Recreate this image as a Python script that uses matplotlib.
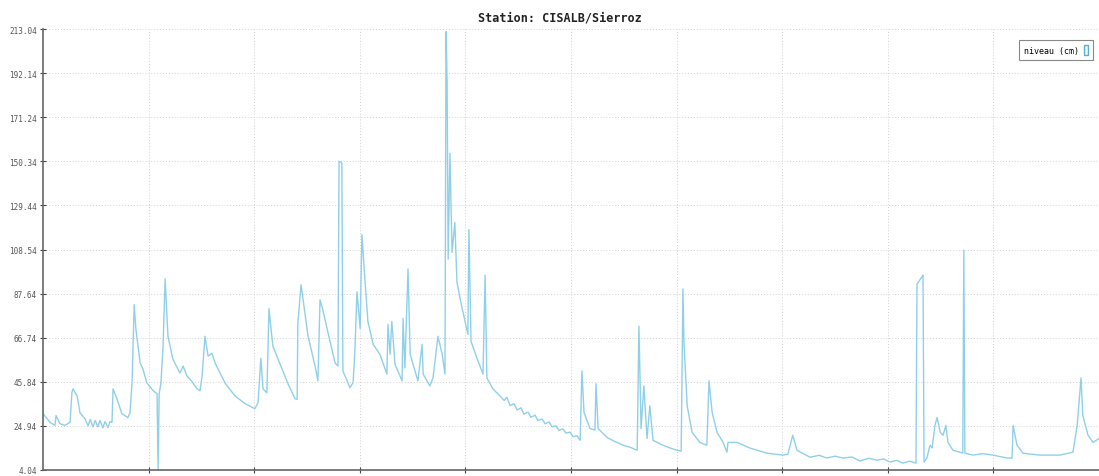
import matplotlib
matplotlib.use("Agg")
import matplotlib.pyplot as plt
from matplotlib.patches import Patch

# day index (0-300) and water level (cm)
days = [
    0.0, 2.0, 3.4, 3.7, 4.8, 6.2, 7.7, 8.2, 8.5, 9.7, 10.5, 11.9,
    12.8, 13.4, 14.2, 14.8, 15.6, 16.2, 17.0, 17.6, 18.5, 19.0, 19.6, 19.9,
    21.0, 22.4, 24.1, 24.7, 25.3, 25.9, 26.4, 27.0, 27.6, 28.4, 29.5, 31.3,
    32.4, 32.7, 33.0, 33.5, 34.1, 34.7, 35.5, 36.9, 38.9, 39.8, 40.9, 42.3,
    43.8, 44.6, 45.2, 46.0, 46.9, 48.0, 48.9, 51.7, 54.5, 57.4, 60.2, 61.1,
    61.9, 62.5, 63.6, 64.2, 65.3, 67.9, 69.6, 71.6, 72.2, 72.4, 73.3, 73.9,
    75.3, 77.3, 78.1, 78.7, 79.5, 81.0, 83.0, 83.8, 84.1, 84.9, 85.2, 86.4,
    87.2, 88.1, 88.6, 89.2, 90.1, 90.6, 91.5, 92.3, 93.8, 95.7, 97.7, 98.0,
    98.6, 99.1, 100.0, 102.0, 102.3, 102.8, 103.7, 104.3, 106.5, 107.7, 108.0, 109.9,
    110.8, 112.2, 113.4, 114.2, 114.5, 114.8, 115.1, 115.6, 116.2, 117.0, 117.6, 118.5,
    119.9, 120.7, 121.0, 121.6, 123.3, 125.0, 125.6, 126.1, 127.8, 129.8, 131.0, 131.8,
    132.7, 133.8, 134.7, 135.8, 136.6, 137.8, 138.6, 139.8, 140.6, 141.8, 142.6, 143.8,
    144.6, 145.7, 146.6, 147.7, 148.6, 149.7, 150.6, 151.7, 152.6, 153.1, 153.7, 155.4,
    156.8, 157.1, 157.7, 160.2, 162.5, 164.8, 166.8, 168.8, 169.3, 169.9, 170.7, 171.6,
    172.4, 173.3, 176.1, 178.1, 180.1, 181.3, 181.8, 182.1, 183.0, 184.4, 186.6, 188.6,
    189.2, 190.1, 191.5, 193.2, 194.3, 194.6, 197.2, 200.9, 205.7, 210.2, 211.6, 213.0,
    214.2, 217.9, 220.5, 222.7, 225.0, 227.3, 229.8, 232.1, 234.5, 236.9, 238.8, 240.6,
    242.5, 244.3, 246.2, 248.0, 248.3, 249.7, 250.0, 250.3, 251.1, 252.0, 252.6, 253.4,
    254.0, 254.9, 255.7, 256.5, 257.1, 258.5, 260.5, 261.3, 261.6, 261.9, 264.2, 267.0,
    269.9, 273.9, 275.3, 275.6, 276.7, 278.4, 283.2, 288.9, 292.6, 293.8, 294.9, 295.4,
    296.9, 298.3, 300.0,
]
niveau = [
    30.8, 26.6, 25.2, 29.8, 26.0, 25.2, 26.6, 40.6, 42.5, 39.2, 31.2, 28.4,
    25.0, 28.0, 24.5, 27.5, 24.5, 27.5, 24.0, 27.0, 24.2, 27.0, 26.6, 42.5,
    37.8, 30.8, 28.9, 31.2, 45.3, 82.4, 70.6, 62.7, 54.7, 51.9, 45.3, 41.6,
    40.2, 4.0, 40.0, 45.3, 62.7, 94.6, 67.4, 56.6, 50.0, 53.3, 48.6, 46.0,
    42.5, 41.6, 48.6, 67.4, 58.0, 59.4, 54.7, 45.3, 39.2, 35.5, 33.1, 36.0,
    57.0, 42.5, 40.6, 80.5, 62.7, 51.9, 44.9, 37.8, 37.5, 73.5, 91.8, 84.7,
    67.4, 53.3, 46.3, 84.7, 80.0, 68.8, 54.7, 53.3, 150.4, 149.5, 51.0, 46.3,
    43.0, 45.5, 60.3, 88.5, 71.1, 115.7, 93.2, 74.4, 63.6, 58.9, 49.5, 73.0,
    58.9, 74.4, 54.2, 46.3, 75.8, 52.4, 99.3, 58.9, 46.3, 63.6, 49.5, 43.9,
    47.7, 67.4, 58.9, 49.5, 211.8, 188.4, 104.0, 154.2, 107.2, 121.3, 93.2, 85.2,
    74.4, 68.3, 118.0, 65.0, 57.0, 49.5, 96.4, 47.7, 42.5, 39.2, 37.0, 38.5,
    34.5, 35.5, 32.5, 33.5, 30.5, 31.5, 29.0, 30.0, 27.5, 28.2, 26.0, 26.8,
    24.5, 25.0, 22.8, 23.5, 21.5, 22.0, 19.8, 20.3, 18.1, 51.0, 31.3, 23.7,
    23.0, 44.9, 23.7, 19.5, 17.5, 15.8, 14.8, 13.4, 72.1, 23.7, 43.9, 19.0,
    34.5, 18.1, 15.8, 14.5, 13.4, 13.0, 89.9, 64.1, 34.5, 21.9, 17.1, 15.8,
    46.3, 31.3, 21.9, 17.1, 12.5, 17.1, 17.1, 14.4, 12.0, 11.1, 11.5, 20.5,
    13.4, 10.1, 11.0, 9.7, 10.6, 9.7, 10.2, 8.3, 9.6, 8.7, 9.3, 7.8,
    8.6, 7.3, 8.2, 7.3, 92.2, 95.5, 96.4, 7.8, 9.7, 15.8, 14.5, 25.2,
    28.9, 21.9, 20.5, 25.2, 17.1, 13.4, 12.5, 12.0, 108.2, 12.0, 11.1, 11.8,
    11.1, 9.7, 9.7, 25.2, 15.8, 12.0, 11.1, 11.1, 12.5, 25.2, 47.7, 29.8,
    20.5, 17.1, 19.0,
]

y_ticks = [4.04, 24.94, 45.84, 66.74, 87.64, 108.54, 129.44, 150.34, 171.24, 192.14, 213.04]
x_ticks = [30, 60, 90, 120, 150, 180, 210, 240, 270]

line_color = "#8fd0e8"
mono = "DejaVu Sans Mono"

fig = plt.figure(figsize=(10.99, 4.77), dpi=100)
ax = fig.add_axes([43 / 1099, 6 / 477, 1 - 43 / 1099, 441 / 477])

ax.plot(days, niveau, color=line_color, linewidth=1.0)

ax.set_xlim(0, 300)
ax.set_ylim(y_ticks[0], y_ticks[-1])
ax.set_yticks(y_ticks)
ax.set_yticklabels([f"{v:.2f}" for v in y_ticks], fontsize=5.5, family=mono, color="#555555")
ax.set_xticks(x_ticks)
ax.set_xticklabels([])

# light dotted grid on both axes
ax.grid(True, linestyle=(0, (1, 2)), color="#d0d0d0", linewidth=0.7)
for spine in ["top", "right"]:
    ax.spines[spine].set_visible(False)
for spine in ["left", "bottom"]:
    ax.spines[spine].set_color("#666666")
    ax.spines[spine].set_linewidth(1.2)
ax.tick_params(axis="y", direction="inout", length=5, color="#444444", pad=2)
ax.tick_params(axis="x", direction="inout", length=5, color="#444444")

fig.text(560 / 1099, 1 - 18 / 477, "Station: CISALB/Sierroz", ha="center", va="center",
         family=mono, fontsize=8.5, color="#222222", fontweight="bold")

handle = Patch(facecolor="#e8f6fb", edgecolor="#5aaecf", linewidth=1)
leg = ax.legend([handle], ["niveau (cm)"], loc="upper right", bbox_to_anchor=(0.998, 0.985),
                markerfirst=False, prop={"family": mono, "size": 6},
                handlelength=0.5, handleheight=1.6, handletextpad=0.5,
                fancybox=False, framealpha=1, borderpad=0.6)
leg.get_frame().set_edgecolor("#888888")
leg.get_frame().set_linewidth(0.8)

fig.savefig("out.png", dpi=100)
